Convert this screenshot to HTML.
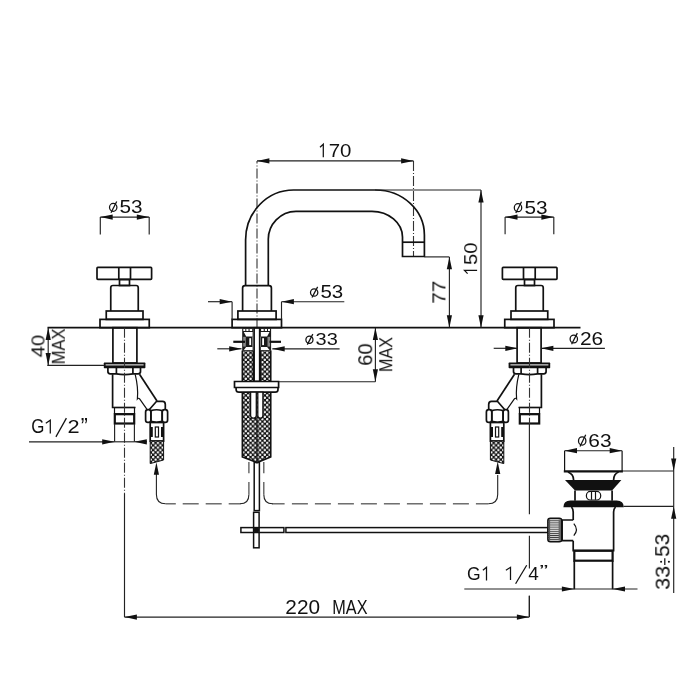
<!DOCTYPE html>
<html><head><meta charset="utf-8"><style>
html,body{margin:0;padding:0;background:#fff;width:700px;height:700px;overflow:hidden}
svg{display:block}
.o{fill:none;stroke:#111;stroke-width:1.7}
.o2{fill:none;stroke:#111;stroke-width:1.2}
.d2{fill:none;stroke:#111;stroke-width:1.2}
.o4{fill:none;stroke:#111;stroke-width:1.5}
.o3{fill:none;stroke:#111;stroke-width:2.2}
.f{fill:#111;stroke:none}
.d{fill:none;stroke:#222;stroke-width:1.15}
.tk{fill:none;stroke:#111;stroke-width:2.2}
.c{fill:none;stroke:#333;stroke-width:1.1;stroke-dasharray:10 2 1 2}
.h{fill:none;stroke:#555;stroke-width:1.3}
.hc{fill:none;stroke:#222;stroke-width:1.1}
.a{fill:#111;stroke:none}
.oe{fill:none;stroke:#111;stroke-width:1.25}
.tv{font-family:"Liberation Sans", sans-serif;font-size:100px;fill:#111;will-change:transform}
.t{font-family:"Liberation Sans", sans-serif;font-size:100px;fill:#111;will-change:transform}
</style></head><body>
<svg width="700" height="700" viewBox="0 0 700 700">
<defs>
<pattern id="braid" width="4.75" height="4.75" patternUnits="userSpaceOnUse">
<rect width="4.75" height="4.75" fill="#111"/>
<circle cx="1.19" cy="1.19" r="1.2" fill="#fff"/>
<circle cx="3.56" cy="3.56" r="1.2" fill="#fff"/>
</pattern>
<pattern id="knurl" width="10" height="2.1" patternUnits="userSpaceOnUse" y="518.3">
<rect width="10" height="2.1" fill="#d8d8d8"/><rect width="10" height="0.8" fill="#333"/>
</pattern>
</defs>
<rect width="700" height="700" fill="#fff"/>
<line x1="47.5" y1="327.7" x2="580.5" y2="327.7" class="o"/>
<line x1="257" y1="160.9" x2="257" y2="327" class="c" stroke-dashoffset="7.5"/>
<line x1="413.5" y1="160.9" x2="413.5" y2="256.5" class="c"/>
<line x1="257" y1="160.9" x2="413.5" y2="160.9" class="d"/>
<polygon points="257.00,160.90 269.40,158.30 269.40,163.50" class="a"/>
<polygon points="413.50,160.90 401.10,158.30 401.10,163.50" class="a"/>
<path d="M320,147.2 L323.3,144.2 V157.2" class="oe"/>
<text transform="matrix(0.20490 0 0 0.18865 328.675 157.206)" class="t">70</text>
<path d="M245.6,286 V240 A48,50 0 0 1 294,190 H375.3 A49,45 0 0 1 424.4,235 V256.5 H402.5 V237 A30.7,25.8 0 0 0 372,211.4 H296 A28,28 0 0 0 268.3,240 V286" class="o"/>
<line x1="402.5" y1="242.2" x2="424.4" y2="242.2" class="o"/>
<line x1="375" y1="190" x2="481" y2="190" class="d"/>
<line x1="424.4" y1="256.9" x2="449.4" y2="256.9" class="d"/>
<line x1="481" y1="190" x2="481" y2="327.7" class="d"/>
<polygon points="481.00,190.00 478.40,202.40 483.60,202.40" class="a"/>
<polygon points="481.00,327.70 478.40,315.30 483.60,315.30" class="a"/>
<line x1="449.4" y1="256.9" x2="449.4" y2="327.7" class="d"/>
<polygon points="449.40,256.90 446.80,269.30 452.00,269.30" class="a"/>
<polygon points="449.40,327.70 446.80,315.30 452.00,315.30" class="a"/>
<path d="M467.6,273.6 L464.5,270.4 H477.1" class="oe"/>
<text transform="matrix(0 -0.20291 0.18582 0 477.407 265.012)" class="tv">50</text>
<text transform="matrix(0 -0.20891 0.19291 0 445.804 303.745)" class="tv">77</text>
<path d="M242.6,311 V288 Q242.6,285.6 245,285.6 H269 Q271.4,285.6 271.4,288 V311" class="o"/>
<rect x="237.9" y="311" width="38.20" height="8.40" class="o"/>
<rect x="232.1" y="319.4" width="49.40" height="8.30" class="o"/>
<line x1="232.1" y1="301.7" x2="232.1" y2="319.4" class="d"/>
<line x1="281.5" y1="301.7" x2="281.5" y2="319.4" class="d"/>
<line x1="208" y1="301.7" x2="232.1" y2="301.7" class="d"/>
<polygon points="232.10,301.70 219.70,299.10 219.70,304.30" class="a"/>
<line x1="281.5" y1="301.7" x2="344.3" y2="301.7" class="d"/>
<polygon points="281.50,301.70 293.90,299.10 293.90,304.30" class="a"/>
<ellipse cx="314.16" cy="292.50" rx="3.66" ry="3.74" class="oe"/>
<line x1="311.98" y1="297.58" x2="317.63" y2="286.85" class="oe"/>
<text transform="matrix(0.20510 0 0 0.17589 320.455 298.112)" class="t">53</text>
<rect x="242.4" y="350.6" width="11" height="40" fill="url(#braid)"/>
<rect x="260.5" y="350.6" width="10.2" height="40" fill="url(#braid)"/>
<path d="M242.4,390 H270.7 V457 L257,462.5 L242.4,457 Z" fill="url(#braid)"/>
<path d="M242.4,350.6 V457 L257,462.5 L270.7,457 V350.6" class="o"/>
<line x1="253.4" y1="350.6" x2="253.4" y2="381.3" class="o"/>
<line x1="260.5" y1="350.6" x2="260.5" y2="381.3" class="o"/>
<g><rect x="242.2" y="328.3" width="11.4" height="22.5" fill="#1a1a1a"/><rect x="243.3" y="329" width="2" height="2" fill="#fff"/><rect x="246.3" y="329" width="2.2" height="2" fill="#fff"/><rect x="249.6" y="329" width="2.6" height="2" fill="#fff"/><path d="M243.8,332.1 H252.6 V336.5 H246.2 Z" fill="#fff"/><path d="M246.2,346.9 H252.6 V350.1 H243.8 Z" fill="#fff"/><rect x="243.2" y="336.8" width="2.6" height="9.8" fill="#888"/><rect x="249.3" y="338.2" width="1.8" height="6.9" fill="#fff"/><rect x="252.6" y="336.5" width="0.6" height="10.4" fill="#fff"/></g>
<g transform="translate(513.3,0) scale(-1,1)"><rect x="242.2" y="328.3" width="11.4" height="22.5" fill="#1a1a1a"/><rect x="243.3" y="329" width="2" height="2" fill="#fff"/><rect x="246.3" y="329" width="2.2" height="2" fill="#fff"/><rect x="249.6" y="329" width="2.6" height="2" fill="#fff"/><path d="M243.8,332.1 H252.6 V336.5 H246.2 Z" fill="#fff"/><path d="M246.2,346.9 H252.6 V350.1 H243.8 Z" fill="#fff"/><rect x="243.2" y="336.8" width="2.6" height="9.8" fill="#888"/><rect x="249.3" y="338.2" width="1.8" height="6.9" fill="#fff"/><rect x="252.6" y="336.5" width="0.6" height="10.4" fill="#fff"/></g>
<rect x="254.2" y="327.7" width="5.40" height="53.60" class="o4"/>
<line x1="233.3" y1="341.8" x2="245" y2="341.8" class="tk"/>
<line x1="269.5" y1="341.8" x2="281" y2="341.8" class="tk"/>
<line x1="217.3" y1="348.8" x2="241.6" y2="348.8" class="d"/>
<polygon points="241.60,348.80 229.20,346.20 229.20,351.40" class="a"/>
<line x1="272.3" y1="348.8" x2="339.6" y2="348.8" class="d"/>
<polygon points="272.30,348.80 284.70,346.20 284.70,351.40" class="a"/>
<ellipse cx="309.44" cy="339.63" rx="3.54" ry="3.63" class="oe"/>
<line x1="307.32" y1="344.59" x2="312.82" y2="334.13" class="oe"/>
<text transform="matrix(0.19942 0 0 0.17163 315.562 345.114)" class="t">33</text>
<path d="M234.5,381.5 H278.6 V387.5 H278 V389.5 Q278,392.2 275.2,392.2 H239 Q236.1,392.2 236.1,389.5 V387.5 H234.5 Z" fill="#fff" stroke="none"/>
<path d="M234.5,381.5 H278.6 V387.5 H234.5 Z" class="o"/>
<path d="M236.1,387.5 V389.5 Q236.1,392.2 239,392.2 H275.2 Q278,392.2 278,389.5 V387.5" class="o"/>
<path d="M250.6,392.2 V415.5 Q250.6,418.2 253.4,418.2 Q256.3,418.2 256.3,415.5 V392.2 Z M257.8,392.2 V415.5 Q257.8,418.2 260.4,418.2 Q262.9,418.2 262.9,415.5 V392.2 Z" fill="#fff" stroke="#111" stroke-width="1.3"/>
<line x1="257" y1="418" x2="257" y2="462" class="o2"/>
<line x1="279" y1="381.7" x2="375.4" y2="381.7" class="d"/>
<line x1="375.4" y1="327.7" x2="375.4" y2="381.7" class="d"/>
<polygon points="375.40,327.70 372.80,340.10 378.00,340.10" class="a"/>
<polygon points="375.40,381.70 372.80,369.30 378.00,369.30" class="a"/>
<text transform="matrix(0 -0.20098 0.20426 0 372.398 365.805)" class="tv">60</text>
<text transform="matrix(0 -0.16214 0.17589 0 391.912 372.097)" class="tv">MAX</text>
<rect x="254.2" y="462.5" width="5.20" height="48.10" class="o4"/>
<rect x="253.6" y="512.3" width="5.50" height="35.50" class="o4"/>
<rect x="240.9" y="527.6" width="43.00" height="4.90" class="o4"/>
<rect x="285.9" y="527.6" width="262.10" height="4.90" class="o4"/>
<circle cx="256.4" cy="530" r="2.8" fill="#111"/>
<line x1="165.7" y1="503.8" x2="175.8" y2="503.8" class="h"/>
<line x1="182.7" y1="503.8" x2="198.7" y2="503.8" class="h"/>
<line x1="205.7" y1="503.8" x2="221.7" y2="503.8" class="h"/>
<line x1="228.7" y1="503.8" x2="240.5" y2="503.8" class="h"/>
<line x1="272" y1="503.8" x2="284.6" y2="503.8" class="h"/>
<line x1="291.9" y1="503.8" x2="307.9" y2="503.8" class="h"/>
<line x1="314.9" y1="503.8" x2="330.9" y2="503.8" class="h"/>
<line x1="337.9" y1="503.8" x2="353.9" y2="503.8" class="h"/>
<line x1="360.9" y1="503.8" x2="376.9" y2="503.8" class="h"/>
<line x1="383.9" y1="503.8" x2="399.9" y2="503.8" class="h"/>
<line x1="406.9" y1="503.8" x2="422.9" y2="503.8" class="h"/>
<line x1="429.9" y1="503.8" x2="445.9" y2="503.8" class="h"/>
<line x1="452.9" y1="503.8" x2="468.9" y2="503.8" class="h"/>
<line x1="475.9" y1="503.8" x2="488.3" y2="503.8" class="h"/>
<line x1="248.9" y1="461.9" x2="248.9" y2="473.3" class="h"/>
<line x1="248.9" y1="481.9" x2="248.9" y2="494.4" class="h"/>
<line x1="263.8" y1="461.9" x2="263.8" y2="473.3" class="h"/>
<line x1="263.8" y1="481.9" x2="263.8" y2="494.4" class="h"/>
<path d="M248.9,494.4 Q248.9,503.8 240,503.8" class="hc"/>
<path d="M263.8,494.4 Q263.8,503.8 272.7,503.8" class="hc"/>
<path d="M156.4,474 V494.5 Q156.4,503.8 165.7,503.8" class="hc"/>
<path d="M497.7,475 V494.5 Q497.7,503.8 488.3,503.8" class="hc"/>
<polygon points="156.40,462.30 153.80,474.70 159.00,474.70" class="a"/>
<polygon points="497.70,461.60 495.10,474.00 500.30,474.00" class="a"/>
<g><rect x="97" y="267.4" width="54.60" height="12.00" class="o" rx="0.8"/><line x1="118.8" y1="267.4" x2="118.8" y2="279.4" class="o"/><line x1="130.5" y1="267.4" x2="130.5" y2="279.4" class="o"/><rect x="119.5" y="279.5" width="10.00" height="6.00" class="o"/><path d="M110.75,311 V287.8 Q110.75,285.5 113,285.5 H136 Q138.25,285.5 138.25,287.8 V311" class="o"/><rect x="106.25" y="311" width="36.75" height="8.40" class="o"/><rect x="100" y="319.4" width="49.25" height="8.30" class="o"/><rect x="112.9" y="327.7" width="24.00" height="35.30" class="o"/><rect x="103.8" y="362.6" width="41.6" height="5.6" rx="0.6" fill="#111"/><line x1="105.6" y1="364.9" x2="143.6" y2="364.9" stroke="#fff" stroke-width="1"/><path d="M107.9,368 V371.6 Q107.9,373.9 110.2,373.9 H116.4 Q124.65,375.3 132.9,373.9 H138.1 Q140.5,373.9 140.5,371.6 V368" class="o"/><line x1="116.4" y1="368" x2="116.4" y2="373.9" class="o"/><line x1="132.9" y1="368" x2="132.9" y2="373.9" class="o"/><path d="M112.6,374.3 V407.5 H135.5" class="o"/><path d="M135.2,374.3 Q138.5,388 137.4,398.8 Q138.5,397.5 139.8,399.2 L147,409.3" class="o2"/><path d="M139.5,374.3 L157,401" class="o"/><path d="M149.4,409.5 L156.6,401.3 H162.5 Q165.3,401.3 165.3,404.5 V409.5" class="o"/><rect x="145.6" y="409.7" width="5.30" height="12.60" class="o" rx="2.4"/><rect x="162.2" y="409.7" width="5.40" height="12.60" class="o" rx="2.4"/><path d="M150.9,410.6 Q156.5,408.9 162.2,410.6 V421.4 Q156.5,423.1 150.9,421.4 Z" class="o"/><rect x="150.2" y="422.5" width="13.40" height="18.50" class="o"/><rect x="150.8" y="427" width="2.00" height="10.00" class="f"/><rect x="161" y="427" width="2.00" height="10.00" class="f"/><rect x="155.3" y="427" width="3.20" height="10.00" class="o2"/><path d="M150.2,441 H163.6 V460 L150.2,463.6 Z" fill="url(#braid)" stroke="#111" stroke-width="1"/><rect x="114.5" y="407.5" width="20.00" height="6.30" class="o2"/><rect x="114.8" y="414.2" width="19.40" height="9.30" class="o3"/></g>
<g transform="translate(654.0,0) scale(-1,1)"><rect x="97" y="267.4" width="54.60" height="12.00" class="o" rx="0.8"/><line x1="118.8" y1="267.4" x2="118.8" y2="279.4" class="o"/><line x1="130.5" y1="267.4" x2="130.5" y2="279.4" class="o"/><rect x="119.5" y="279.5" width="10.00" height="6.00" class="o"/><path d="M110.75,311 V287.8 Q110.75,285.5 113,285.5 H136 Q138.25,285.5 138.25,287.8 V311" class="o"/><rect x="106.25" y="311" width="36.75" height="8.40" class="o"/><rect x="100" y="319.4" width="49.25" height="8.30" class="o"/><rect x="112.9" y="327.7" width="24.00" height="35.30" class="o"/><rect x="103.8" y="362.6" width="41.6" height="5.6" rx="0.6" fill="#111"/><line x1="105.6" y1="364.9" x2="143.6" y2="364.9" stroke="#fff" stroke-width="1"/><path d="M107.9,368 V371.6 Q107.9,373.9 110.2,373.9 H116.4 Q124.65,375.3 132.9,373.9 H138.1 Q140.5,373.9 140.5,371.6 V368" class="o"/><line x1="116.4" y1="368" x2="116.4" y2="373.9" class="o"/><line x1="132.9" y1="368" x2="132.9" y2="373.9" class="o"/><path d="M112.6,374.3 V407.5 H135.5" class="o"/><path d="M135.2,374.3 Q138.5,388 137.4,398.8 Q138.5,397.5 139.8,399.2 L147,409.3" class="o2"/><path d="M139.5,374.3 L157,401" class="o"/><path d="M149.4,409.5 L156.6,401.3 H162.5 Q165.3,401.3 165.3,404.5 V409.5" class="o"/><rect x="145.6" y="409.7" width="5.30" height="12.60" class="o" rx="2.4"/><rect x="162.2" y="409.7" width="5.40" height="12.60" class="o" rx="2.4"/><path d="M150.9,410.6 Q156.5,408.9 162.2,410.6 V421.4 Q156.5,423.1 150.9,421.4 Z" class="o"/><rect x="150.2" y="422.5" width="13.40" height="18.50" class="o"/><rect x="150.8" y="427" width="2.00" height="10.00" class="f"/><rect x="161" y="427" width="2.00" height="10.00" class="f"/><rect x="155.3" y="427" width="3.20" height="10.00" class="o2"/><path d="M150.2,441 H163.6 V460 L150.2,463.6 Z" fill="url(#braid)" stroke="#111" stroke-width="1"/><rect x="114.5" y="407.5" width="20.00" height="6.30" class="o2"/><rect x="114.8" y="414.2" width="19.40" height="9.30" class="o3"/></g>
<line x1="100.3" y1="217.1" x2="149.2" y2="217.1" class="d"/>
<polygon points="100.30,217.10 112.70,214.50 112.70,219.70" class="a"/>
<polygon points="149.20,217.10 136.80,214.50 136.80,219.70" class="a"/>
<line x1="100.3" y1="217.1" x2="100.3" y2="234.4" class="d"/>
<line x1="149.2" y1="217.1" x2="149.2" y2="234.4" class="d"/>
<ellipse cx="113.20" cy="207.37" rx="3.70" ry="3.98" class="oe"/>
<line x1="111.00" y1="212.75" x2="116.71" y2="201.41" class="oe"/>
<text transform="matrix(0.20699 0 0 0.18582 119.552 213.307)" class="t">53</text>
<line x1="505.1" y1="217.1" x2="553.8" y2="217.1" class="d"/>
<polygon points="505.10,217.10 517.50,214.50 517.50,219.70" class="a"/>
<polygon points="553.80,217.10 541.40,214.50 541.40,219.70" class="a"/>
<line x1="505.1" y1="217.1" x2="505.1" y2="234.2" class="d"/>
<line x1="553.8" y1="217.1" x2="553.8" y2="234.2" class="d"/>
<ellipse cx="518.01" cy="207.67" rx="3.71" ry="3.98" class="oe"/>
<line x1="515.81" y1="213.04" x2="521.53" y2="201.71" class="oe"/>
<text transform="matrix(0.20762 0 0 0.18582 524.385 213.607)" class="t">53</text>
<line x1="124.5" y1="327.7" x2="124.5" y2="494" class="c"/>
<line x1="124.5" y1="494" x2="124.5" y2="617.1" class="d"/>
<line x1="124.5" y1="617.1" x2="529.3" y2="617.1" class="d"/>
<polygon points="124.50,617.10 136.90,614.50 136.90,619.70" class="a"/>
<polygon points="529.30,617.10 516.90,614.50 516.90,619.70" class="a"/>
<text transform="matrix(0.20823 0 0 0.19291 285.359 613.504)" class="t">220</text>
<text transform="matrix(0.16262 0 0 0.19291 332.299 613.504)" class="t">MAX</text>
<line x1="529.5" y1="327.7" x2="529.5" y2="424" class="c"/>
<line x1="529.4" y1="424" x2="529.4" y2="514.3" class="d"/>
<line x1="529.4" y1="535.7" x2="529.4" y2="568.6" class="d"/>
<line x1="529.4" y1="595.7" x2="529.4" y2="617.1" class="d"/>
<line x1="47.3" y1="365.4" x2="104.5" y2="365.4" class="d"/>
<line x1="48.2" y1="327.7" x2="48.2" y2="365.4" class="d"/>
<polygon points="48.20,327.70 45.60,340.10 50.80,340.10" class="a"/>
<polygon points="48.20,365.40 45.60,353.00 50.80,353.00" class="a"/>
<text transform="matrix(0 -0.20190 0.18014 0 44.510 357.304)" class="tv">40</text>
<text transform="matrix(0 -0.16505 0.17872 0 64.611 364.320)" class="tv">MAX</text>
<line x1="114.6" y1="424" x2="114.6" y2="441.8" class="d"/>
<line x1="134.4" y1="424" x2="134.4" y2="441.8" class="d"/>
<line x1="29" y1="441.8" x2="114.6" y2="441.8" class="d"/>
<polygon points="114.60,441.80 102.20,439.20 102.20,444.40" class="a"/>
<line x1="134.4" y1="441.8" x2="147" y2="441.8" class="d"/>
<polygon points="134.40,441.80 146.80,439.20 146.80,444.40" class="a"/>
<line x1="114.6" y1="441.8" x2="134.4" y2="441.8" class="d"/>
<text transform="matrix(0.16923 0 0 0.19296 31.254 433.407)" class="tv">G</text>
<path d="M45.80,423.20 L50.30,420.20 V433.40" class="oe"/>
<text transform="matrix(0.21739 0 0 0.19143 67.613 433.400)" class="tv">2</text>
<text transform="matrix(0.21154 0 0 0.23182 80.654 434.764)" class="tv">”</text>
<line x1="55.9" y1="436.9" x2="66.4" y2="418.1" class="oe"/>
<line x1="493.7" y1="348.3" x2="517.7" y2="348.3" class="d"/>
<polygon points="517.70,348.30 505.30,345.70 505.30,350.90" class="a"/>
<line x1="541" y1="348.3" x2="604.9" y2="348.3" class="d"/>
<polygon points="541.00,348.30 553.40,345.70 553.40,350.90" class="a"/>
<ellipse cx="573.80" cy="338.97" rx="3.70" ry="3.91" class="oe"/>
<line x1="571.60" y1="344.25" x2="577.31" y2="333.10" class="oe"/>
<text transform="matrix(0.20902 0 0 0.18298 579.935 344.809)" class="t">26</text>
<ellipse cx="582.20" cy="440.89" rx="3.70" ry="4.12" class="oe"/>
<line x1="580.00" y1="446.43" x2="585.71" y2="434.75" class="oe"/>
<text transform="matrix(0.20902 0 0 0.19149 588.335 447.004)" class="t">63</text>
<line x1="564.6" y1="450.7" x2="622.1" y2="450.7" class="d"/>
<polygon points="564.60,450.70 577.00,448.10 577.00,453.30" class="a"/>
<polygon points="622.10,450.70 609.70,448.10 609.70,453.30" class="a"/>
<line x1="564.6" y1="450.7" x2="564.6" y2="471.4" class="d2"/>
<line x1="622.1" y1="450.7" x2="622.1" y2="471.4" class="d2"/>
<line x1="563.8" y1="471.4" x2="622.9" y2="471.4" class="o3"/>
<line x1="622.1" y1="471" x2="673.7" y2="471" class="d"/>
<line x1="623.6" y1="506.4" x2="673.7" y2="506.4" class="d"/>
<path d="M567.9,472 Q573.6,474 573.6,480" class="o"/>
<path d="M618.6,472 Q613.6,474 613.6,480" class="o"/>
<path d="M565,480 H621.4 L612.1,490.6 H575 Z" fill="#111"/>
<path d="M575,490.5 V500.7 M612.1,490.5 V500.7" class="o"/>
<rect x="586.4" y="491.4" width="14.3" height="8.6" rx="4" class="o2"/>
<line x1="591.5" y1="491.6" x2="591.5" y2="499.8" class="o2"/>
<line x1="595.5" y1="491.6" x2="595.5" y2="499.8" class="o2"/>
<path d="M563.4,507.3 Q563.4,500.6 570.5,500.6 H616.6 Q623.8,500.6 623.8,507.3 Z" fill="#111"/>
<path d="M571.5,507 Q573.2,509 573.2,512 V520 M573.2,540.7 V550.7 H613.6 V512 Q613.6,509 615.5,507" class="o"/>
<path d="M573.2,520 H562.1 V540.7 H573.2" class="o"/>
<path d="M573.8,523.6 Q579,529.6 573.8,535.7" class="o2"/>
<rect x="547.9" y="518.3" width="13.8" height="23.4" rx="2.5" fill="url(#knurl)" stroke="#111" stroke-width="1.6"/>
<rect x="548.6" y="519.5" width="1.5" height="21" fill="#555"/><rect x="558.6" y="519.5" width="2.4" height="21" fill="#666"/>
<rect x="574.3" y="550.7" width="38.30" height="10.00" class="o3"/>
<path d="M574.3,560.7 V589.3 M612.6,560.7 V589.3" class="o"/>
<line x1="464.3" y1="589" x2="637.5" y2="589" class="d"/>
<polygon points="574.30,589.00 561.90,586.40 561.90,591.60" class="a"/>
<polygon points="612.60,589.00 625.00,586.40 625.00,591.60" class="a"/>
<text transform="matrix(0.17538 0 0 0.19155 467.023 580.408)" class="tv">G</text>
<path d="M482.90,570.30 L486.50,567.30 V580.40" class="oe"/>
<path d="M505.90,570.30 L510.50,567.30 V580.10" class="oe"/>
<text transform="matrix(0.19020 0 0 0.19118 528.220 580.291)" class="tv">4</text>
<text transform="matrix(0.25769 0 0 0.16818 539.469 577.036)" class="tv">”</text>
<line x1="515.6" y1="583.8" x2="526.7" y2="565.2" class="oe"/>
<line x1="673.7" y1="447" x2="673.7" y2="593" class="d"/>
<polygon points="673.70,471.00 671.10,458.60 676.30,458.60" class="a"/>
<polygon points="673.70,506.40 671.10,518.80 676.30,518.80" class="a"/>
<text transform="matrix(0 -0.21748 0.19433 0 669.703 589.870)" class="tv">33</text>
<text transform="matrix(0 -0.20777 0.19433 0 669.703 556.831)" class="tv">53</text>
<line x1="664.8" y1="558.3" x2="664.8" y2="564.9" class="oe"/>
<circle cx="661.1" cy="561.7" r="1.05" fill="#111"/><circle cx="668.9" cy="561.7" r="1.05" fill="#111"/>
<line x1="529.3" y1="595.7" x2="529.3" y2="617.1" class="d"/>
</svg></body></html>
